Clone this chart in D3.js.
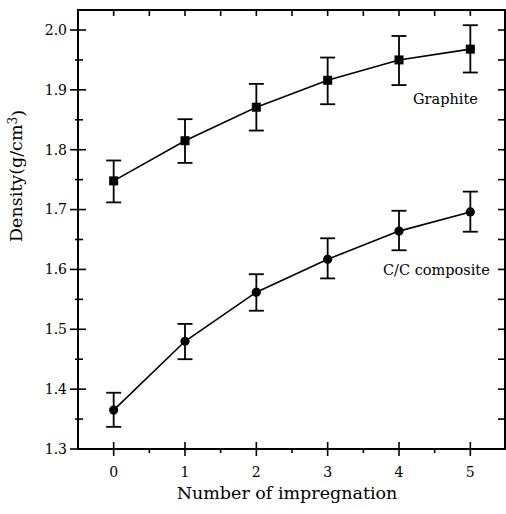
<!DOCTYPE html>
<html>
<head>
<meta charset="utf-8">
<script src="https://cdn.jsdelivr.net/npm/d3@7"></script>
<style>
  body { margin: 0; background: #fff; }
  text { font-family: "DejaVu Serif", serif; fill: #000; }
</style>
</head>
<body>
<div id="chart"></div>
<script>
var w = 506;
var h = 514;

// number of impregnation cycles
var cycles = [0, 1, 2, 3, 4, 5];

// graphite density with error bar ends
var graphite = [1.748, 1.815, 1.871, 1.916, 1.950, 1.968];
var graphiteHi = [1.782, 1.851, 1.910, 1.954, 1.990, 2.008];
var graphiteLo = [1.712, 1.778, 1.832, 1.876, 1.908, 1.929];

// C/C composite density with error bar ends
var composite = [1.365, 1.480, 1.562, 1.617, 1.664, 1.696];
var compositeHi = [1.394, 1.509, 1.592, 1.652, 1.698, 1.730];
var compositeLo = [1.337, 1.450, 1.531, 1.585, 1.632, 1.663];

var yTicks = [1.3, 1.4, 1.5, 1.6, 1.7, 1.8, 1.9, 2.0];
var yMinor = [1.35, 1.45, 1.55, 1.65, 1.75, 1.85, 1.95];
var xMinor = [-0.5, 0.5, 1.5, 2.5, 3.5, 4.5];

// plot frame (don't call it "top", that's window.top)
var fLeft = 78, fRight = 505, fTop = 10, fBottom = 449;

var x = d3.scaleLinear().domain([-0.5, 5.5]).range([fLeft, 506]);
var y = d3.scaleLinear().domain([1.3, 2.0]).range([fBottom, 30]);

var svg = d3.select("#chart").append("svg")
    .attr("width", w)
    .attr("height", h);

// frame
svg.append("rect")
    .attr("x", fLeft)
    .attr("y", fTop)
    .attr("width", fRight - fLeft)
    .attr("height", fBottom - fTop)
    .attr("fill", "none")
    .attr("stroke", "#000")
    .attr("stroke-width", 2);

// left axis ticks cross the frame line
svg.selectAll(".ly")
    .data(yTicks)
    .enter().append("line")
    .attr("x1", fLeft - 8).attr("x2", fLeft + 8)
    .attr("y1", function(d) { return y(d); })
    .attr("y2", function(d) { return y(d); })
    .attr("stroke", "#000").attr("stroke-width", 1.6);

svg.selectAll(".lym")
    .data(yMinor)
    .enter().append("line")
    .attr("x1", fLeft - 3).attr("x2", fLeft + 5)
    .attr("y1", function(d) { return y(d); })
    .attr("y2", function(d) { return y(d); })
    .attr("stroke", "#000").attr("stroke-width", 1.6);

// right axis ticks point inwards
svg.selectAll(".ry")
    .data(yTicks.concat(yMinor))
    .enter().append("line")
    .attr("x1", fRight - 7).attr("x2", fRight)
    .attr("y1", function(d) { return y(d); })
    .attr("y2", function(d) { return y(d); })
    .attr("stroke", "#000").attr("stroke-width", 1.6);

// bottom ticks
svg.selectAll(".bx")
    .data(cycles)
    .enter().append("line")
    .attr("x1", function(d) { return x(d); })
    .attr("x2", function(d) { return x(d); })
    .attr("y1", fBottom - 7).attr("y2", fBottom + 7)
    .attr("stroke", "#000").attr("stroke-width", 1.6);

svg.selectAll(".bxm")
    .data(xMinor.slice(1))
    .enter().append("line")
    .attr("x1", function(d) { return x(d); })
    .attr("x2", function(d) { return x(d); })
    .attr("y1", fBottom).attr("y2", fBottom + 4)
    .attr("stroke", "#000").attr("stroke-width", 1.6);

// top ticks point down
svg.selectAll(".tx")
    .data(cycles.concat(xMinor.slice(1)))
    .enter().append("line")
    .attr("x1", function(d) { return x(d); })
    .attr("x2", function(d) { return x(d); })
    .attr("y1", fTop).attr("y2", fTop + 6)
    .attr("stroke", "#000").attr("stroke-width", 1.6);

// tick labels
svg.selectAll(".ylab")
    .data(yTicks)
    .enter().append("text")
    .attr("x", fLeft - 11)
    .attr("y", function(d) { return y(d); })
    .attr("dy", "0.35em")
    .attr("text-anchor", "end")
    .attr("font-size", "14px")
    .text(function(d) { return d.toFixed(1); });

svg.selectAll(".xlab")
    .data(cycles)
    .enter().append("text")
    .attr("x", function(d) { return x(d); })
    .attr("y", 477)
    .attr("text-anchor", "middle")
    .attr("font-size", "14px")
    .text(function(d) { return d; });

// axis titles
svg.append("text")
    .attr("x", 287)
    .attr("y", 499)
    .attr("text-anchor", "middle")
    .attr("font-size", "17.5px")
    .text("Number of impregnation");

var yt = svg.append("text")
    .attr("transform", "translate(22,176) rotate(-90)")
    .attr("text-anchor", "middle")
    .attr("font-size", "17.5px");
yt.append("tspan").text("Density(g/cm");
yt.append("tspan").attr("dy", "-0.45em").attr("font-size", "12px").text("3");
yt.append("tspan").attr("dy", "0.45em").text(")");

function drawSeries(vals, lo, hi, shape) {
    var pts = cycles.map(function(c, i) { return { x: c, v: vals[i], lo: lo[i], hi: hi[i] }; });

    svg.append("path")
        .datum(pts)
        .attr("fill", "none")
        .attr("stroke", "#000")
        .attr("stroke-width", 1.6)
        .attr("d", d3.line()
            .x(function(d) { return x(d.x); })
            .y(function(d) { return y(d.v); }));

    var g = svg.append("g");
    g.selectAll(".eb")
        .data(pts)
        .enter().append("line")
        .attr("x1", function(d) { return x(d.x); })
        .attr("x2", function(d) { return x(d.x); })
        .attr("y1", function(d) { return y(d.lo); })
        .attr("y2", function(d) { return y(d.hi); })
        .attr("stroke", "#000").attr("stroke-width", 1.8);

    [ "lo", "hi" ].forEach(function(k) {
        g.selectAll(".cap" + k)
            .data(pts)
            .enter().append("line")
            .attr("x1", function(d) { return x(d.x) - 7.5; })
            .attr("x2", function(d) { return x(d.x) + 7.5; })
            .attr("y1", function(d) { return y(d[k]); })
            .attr("y2", function(d) { return y(d[k]); })
            .attr("stroke", "#000").attr("stroke-width", 1.8);
    });

    if (shape === "square") {
        g.selectAll(".mk")
            .data(pts)
            .enter().append("rect")
            .attr("x", function(d) { return x(d.x) - 4.5; })
            .attr("y", function(d) { return y(d.v) - 4.5; })
            .attr("width", 9).attr("height", 9)
            .attr("fill", "#000");
    } else {
        g.selectAll(".mk")
            .data(pts)
            .enter().append("circle")
            .attr("cx", function(d) { return x(d.x); })
            .attr("cy", function(d) { return y(d.v); })
            .attr("r", 4.6)
            .attr("fill", "#000");
    }
}

drawSeries(graphite, graphiteLo, graphiteHi, "square");
drawSeries(composite, compositeLo, compositeHi, "circle");

// series labels
svg.append("text")
    .attr("x", 413).attr("y", 104)
    .attr("font-size", "14.5px")
    .text("Graphite");

svg.append("text")
    .attr("x", 383).attr("y", 275)
    .attr("font-size", "14.5px")
    .text("C/C composite");
</script>
</body>
</html>
